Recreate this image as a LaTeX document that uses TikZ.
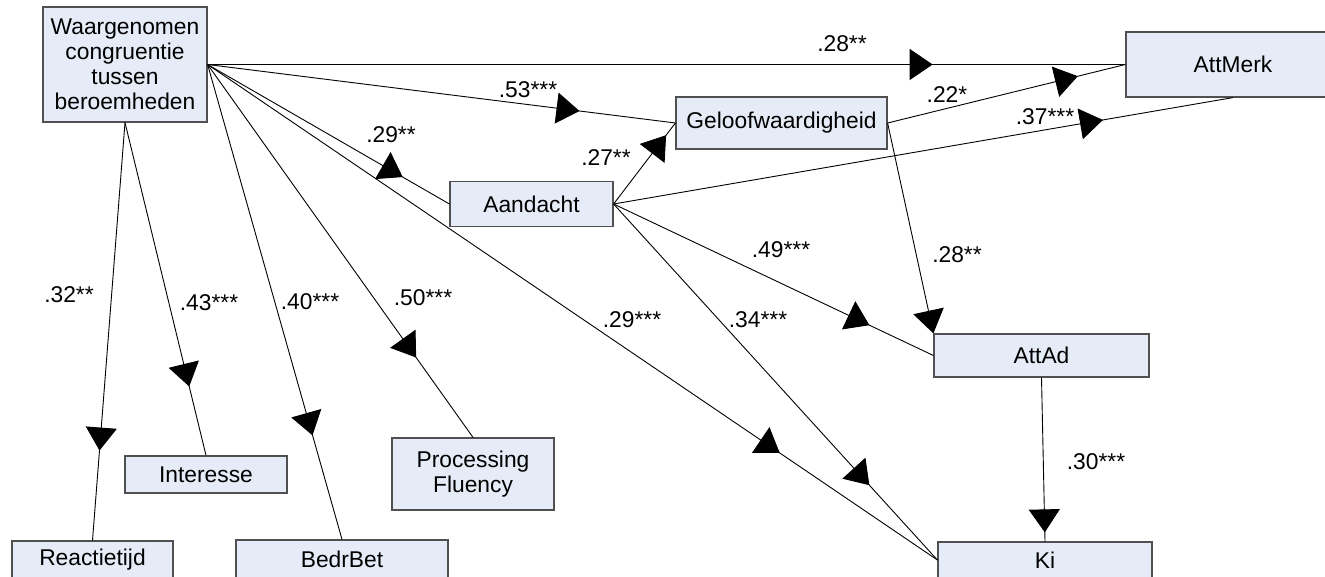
\documentclass[tikz,border=0pt]{standalone}
\usepackage{fontspec}
\setmainfont{Liberation Sans}
\usetikzlibrary{arrows.meta,decorations.markings}
\definecolor{boxfill}{RGB}{230,236,247}
\definecolor{boxline}{RGB}{80,80,80}
\begin{document}
\begin{tikzpicture}[x=1pt,y=-1pt,
  font=\fontsize{22.8}{25}\selectfont,
  box/.style={draw=boxline, fill=boxfill, line width=1.2pt, inner sep=0pt, align=center, text=black},
  conn/.style={draw=black, line width=0.9pt},
  midarrow/.style={postaction={decorate, decoration={markings, mark=at position #1 with {\arrow{Triangle[length=23pt,width=31pt]}}}}},
  midarrow/.default=0.79,
  endarrow/.style={-{Triangle[length=23pt,width=31pt]}},
  lbl/.style={inner sep=0pt, text=black}]
\useasboundingbox (0,0) rectangle (1325,577);
\clip (0,0) rectangle (1325,577);
\fill[white] (0,0) rectangle (1325,577);
% nodes
\node[box, minimum width=164pt, minimum height=115pt] (W) at (125,64.5) {Waargenomen\\congruentie\\tussen\\beroemheden};
\node[box, minimum width=214pt, minimum height=65pt] (AM) at (1233,64.5) {AttMerk};
\node[box, minimum width=211pt, minimum height=52pt] (G) at (781.5,123) {Geloofwaardigheid};
\node[box, minimum width=163pt, minimum height=45pt] (A) at (531.5,204) {Aandacht};
\node[box, minimum width=215pt, minimum height=43pt] (AA) at (1041.5,355.5) {AttAd};
\node[box, minimum width=214pt, minimum height=36pt] (Ki) at (1045,560) {Ki};
\node[box, minimum width=161pt, minimum height=38pt] (R) at (92.5,560) {Reactietijd};
\node[box, minimum width=212pt, minimum height=38pt] (B) at (342,559) {BedrBet};
\node[box, minimum width=162pt, minimum height=37pt] (I) at (206,474.5) {Interesse};
\node[box, minimum width=162pt, minimum height=72pt] (PF) at (473,474) {Processing\\Fluency};
% connectors
\draw[conn, midarrow] (W.east) -- (AM.west);
\draw[conn, midarrow=0.795] (W.east) -- (G.west);
\draw[conn, midarrow=0.807] (W.east) -- (A.west);
\draw[conn, midarrow=0.784] (W.east) -- (Ki.west);
\draw[conn, midarrow=0.785] (W.south) -- (R.north);
\draw[conn, midarrow=0.793] (W.south) -- (I.north);
\draw[conn, midarrow=0.781] (W.east) -- (B.north);
\draw[conn, midarrow=0.786] (W.east) -- (PF.north);
\draw[conn, midarrow=0.85] (A.east) -- (G.west);
\draw[conn, midarrow=0.80] (G.east) -- (AM.west);
\draw[conn, midarrow=0.79] (A.east) -- (AM.south);
\draw[conn, midarrow=0.80] (A.east) -- (AA.west);
\draw[conn, midarrow=0.79] (A.east) -- (Ki.west);
\draw[conn, endarrow] (G.east) -- (AA.north west);
\draw[conn, midarrow=0.945] (AA.south) -- (Ki.north);
% labels
\node[lbl] (l1) at (842,44) {.28**};
\node[lbl] (l2) at (528,90) {.53***};
\node[lbl] (l3) at (391,135) {.29**};
\node[lbl] (l4) at (632,320) {.29***};
\node[lbl] (l5) at (69,295) {.32**};
\node[lbl] (l6) at (209,303) {.43***};
\node[lbl] (l7) at (310,302) {.40***};
\node[lbl] (l8) at (423,298) {.50***};
\node[lbl] (l9) at (606,158) {.27**};
\node[lbl] (l10) at (947,95) {.22*};
\node[lbl] (l11) at (1045,117) {.37***};
\node[lbl] (l12) at (781,250) {.49***};
\node[lbl] (l13) at (758,320) {.34***};
\node[lbl] (l14) at (957,255) {.28**};
\node[lbl] (l15) at (1096,462) {.30***};
\end{tikzpicture}
\end{document}
